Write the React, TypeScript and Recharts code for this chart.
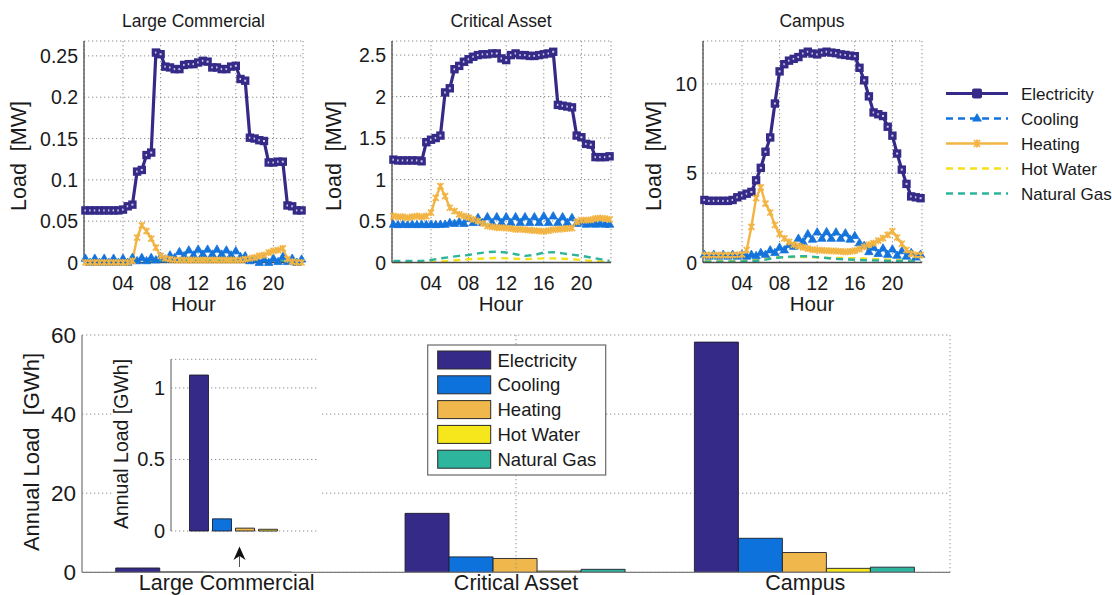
import React from 'react';
import { LineChart, Line, XAxis, YAxis, CartesianGrid, BarChart, Bar, ReferenceLine } from 'recharts';

const FONT = '"Liberation Sans", Arial, Helvetica, sans-serif';
const TEXT = '#1a1a1a';
const BOX = '#4a4a4a';
const BOX2 = '#7d7d7d';
const GRID = '#8e8e8e';

// ---------- categories / ticks ----------
const HOURS_HALF = [0, 0.5, 1, 1.5, 2, 2.5, 3, 3.5, 4, 4.5, 5, 5.5, 6, 6.5, 7, 7.5, 8, 8.5, 9, 9.5, 10, 10.5, 11, 11.5, 12, 12.5, 13, 13.5, 14, 14.5, 15, 15.5, 16, 16.5, 17, 17.5, 18, 18.5, 19, 19.5, 20, 20.5, 21, 21.5, 22, 22.5, 23];
const HOURS = [0, 1, 2, 3, 4, 5, 6, 7, 8, 9, 10, 11, 12, 13, 14, 15, 16, 17, 18, 19, 20, 21, 22, 23];
const HOUR_TICKS = [4, 8, 12, 16, 20];
const HOUR_TICK_LABELS = ['04', '08', '12', '16', '20'];
const SERIES_NAMES = ['Electricity', 'Cooling', 'Heating', 'Hot Water', 'Natural Gas'];
const LINE_COLORS = ['#352A87', '#1474DC', '#F2B443', '#F5E11B', '#2DB59C'];
const BAR_COLORS = ['#352A87', '#0E72DC', '#F0B84C', '#F6E61C', '#2DB59E'];
const PANEL_TITLES = ['Large Commercial', 'Critical Asset', 'Campus'];

// ---------- Large Commercial hourly profile (MW) ----------
const LC_ELEC = [0.063, 0.063, 0.063, 0.063, 0.063, 0.063, 0.063, 0.063, 0.064, 0.068, 0.070, 0.110, 0.112, 0.130, 0.133, 0.254, 0.252, 0.237, 0.236, 0.234, 0.234, 0.239, 0.240, 0.240, 0.242, 0.244, 0.243, 0.236, 0.236, 0.234, 0.234, 0.237, 0.238, 0.222, 0.220, 0.151, 0.150, 0.148, 0.147, 0.121, 0.121, 0.122, 0.122, 0.069, 0.068, 0.063, 0.063];
const LC_COOL = [0.005, 0, 0.005, 0, 0.005, 0, 0.005, 0, 0.005, 0, 0.006, 0.002, 0.006, 0.002, 0.006, 0.003, 0.007, 0.004, 0.009, 0.006, 0.013, 0.008, 0.015, 0.009, 0.016, 0.010, 0.016, 0.010, 0.016, 0.010, 0.015, 0.009, 0.014, 0.007, 0.008, 0.002, 0.004, 0, 0.004, 0, 0.005, 0.001, 0.007, 0.001, 0.005, 0, 0.004];
const LC_HEAT = [0, 0, 0, 0, 0, 0, 0, 0, 0, 0, 0.002, 0.030, 0.045, 0.038, 0.029, 0.018, 0.008, 0.005, 0.004, 0.003, 0.003, 0.003, 0.003, 0.003, 0.003, 0.003, 0.003, 0.003, 0.003, 0.003, 0.003, 0.003, 0.003, 0.003, 0.004, 0.005, 0.006, 0.008, 0.009, 0.012, 0.014, 0.015, 0.017, 0.004, 0.001, 0, 0];
const LC_HW = [0.001, 0.001, 0.001, 0.001, 0.001, 0.001, 0.002, 0.002, 0.002, 0.002, 0.002, 0.002, 0.002, 0.002, 0.002, 0.002, 0.002, 0.002, 0.002, 0.002, 0.002, 0.001, 0.001, 0.001];
const LC_NG = [0.002, 0.002, 0.002, 0.002, 0.002, 0.002, 0.002, 0.002, 0.002, 0.002, 0.002, 0.002, 0.002, 0.002, 0.002, 0.002, 0.002, 0.002, 0.002, 0.002, 0.002, 0.002, 0.002, 0.002];

// ---------- Critical Asset hourly profile (MW) ----------
const CA_ELEC = [1.24, 1.23, 1.23, 1.23, 1.23, 1.23, 1.22, 1.45, 1.48, 1.50, 1.53, 2.05, 2.10, 2.33, 2.37, 2.42, 2.45, 2.48, 2.50, 2.51, 2.51, 2.52, 2.52, 2.46, 2.44, 2.50, 2.52, 2.50, 2.50, 2.49, 2.49, 2.50, 2.51, 2.52, 2.54, 1.90, 1.89, 1.88, 1.87, 1.53, 1.51, 1.43, 1.42, 1.27, 1.27, 1.27, 1.28];
const CA_COOL = [0.46, 0.455, 0.46, 0.455, 0.46, 0.455, 0.46, 0.455, 0.46, 0.455, 0.46, 0.46, 0.48, 0.47, 0.49, 0.47, 0.53, 0.48, 0.54, 0.48, 0.55, 0.48, 0.55, 0.48, 0.55, 0.48, 0.55, 0.48, 0.55, 0.48, 0.55, 0.48, 0.56, 0.48, 0.56, 0.48, 0.55, 0.48, 0.54, 0.47, 0.49, 0.46, 0.47, 0.46, 0.47, 0.46, 0.46];
const CA_HEAT = [0.56, 0.55, 0.55, 0.54, 0.55, 0.56, 0.55, 0.56, 0.60, 0.78, 0.92, 0.80, 0.66, 0.62, 0.58, 0.56, 0.54, 0.52, 0.50, 0.47, 0.44, 0.43, 0.42, 0.42, 0.415, 0.41, 0.40, 0.40, 0.395, 0.39, 0.385, 0.38, 0.375, 0.385, 0.395, 0.40, 0.405, 0.41, 0.415, 0.49, 0.51, 0.51, 0.515, 0.53, 0.535, 0.53, 0.52];
const CA_HW = [0.005, 0.005, 0.005, 0.005, 0.008, 0.012, 0.02, 0.03, 0.04, 0.045, 0.05, 0.055, 0.05, 0.045, 0.04, 0.045, 0.05, 0.05, 0.045, 0.04, 0.03, 0.02, 0.012, 0.008];
const CA_NG = [0.02, 0.02, 0.02, 0.02, 0.03, 0.05, 0.065, 0.08, 0.09, 0.11, 0.125, 0.13, 0.12, 0.10, 0.08, 0.09, 0.12, 0.125, 0.11, 0.095, 0.08, 0.06, 0.04, 0.02];

// ---------- Campus hourly profile (MW) ----------
const CP_ELEC = [3.5, 3.45, 3.45, 3.45, 3.45, 3.45, 3.5, 3.65, 3.75, 3.85, 3.95, 4.6, 5.3, 6.2, 7.0, 8.9, 10.7, 11.1, 11.3, 11.4, 11.5, 11.7, 11.8, 11.7, 11.65, 11.75, 11.8, 11.75, 11.72, 11.65, 11.62, 11.58, 11.55, 10.9, 10.2, 9.3, 8.4, 8.3, 8.2, 7.6, 7.1, 6.1, 5.2, 4.4, 3.7, 3.65, 3.6];
const CP_COOL = [0.45, 0.35, 0.45, 0.35, 0.45, 0.35, 0.45, 0.35, 0.45, 0.35, 0.45, 0.38, 0.55, 0.45, 0.7, 0.55, 0.85, 0.7, 1.0, 0.9, 1.35, 1.15, 1.6, 1.3, 1.7, 1.35, 1.72, 1.35, 1.7, 1.35, 1.65, 1.3, 1.5, 1.1, 0.95, 0.6, 0.85, 0.5, 0.8, 0.45, 0.75, 0.4, 0.65, 0.35, 0.55, 0.3, 0.45];
const CP_HEAT = [0.42, 0.4, 0.42, 0.4, 0.42, 0.4, 0.42, 0.42, 0.45, 0.7, 2.0, 3.6, 4.2, 3.3, 2.8, 2.1, 1.6, 1.35, 1.15, 1.0, 0.92, 0.85, 0.78, 0.72, 0.7, 0.68, 0.66, 0.65, 0.64, 0.62, 0.6, 0.62, 0.66, 0.75, 0.88, 1.0, 1.08, 1.22, 1.36, 1.55, 1.75, 1.4, 1.05, 0.7, 0.5, 0.42, 0.42];
const CP_HW = [0.08, 0.08, 0.08, 0.08, 0.1, 0.12, 0.18, 0.25, 0.3, 0.3, 0.3, 0.3, 0.28, 0.26, 0.25, 0.25, 0.24, 0.22, 0.2, 0.18, 0.15, 0.12, 0.1, 0.08];
const CP_NG = [0.05, 0.05, 0.05, 0.05, 0.06, 0.08, 0.12, 0.2, 0.28, 0.32, 0.35, 0.35, 0.3, 0.25, 0.2, 0.18, 0.15, 0.13, 0.12, 0.1, 0.09, 0.08, 0.06, 0.05];

// ---------- y axes of the hourly panels ----------
const LC_YTICKS = [0, 0.05, 0.1, 0.15, 0.2, 0.25];
const LC_YLABELS = ['0', '0.05', '0.1', '0.15', '0.2', '0.25'];
const CA_YTICKS = [0, 0.5, 1, 1.5, 2, 2.5];
const CA_YLABELS = ['0', '0.5', '1', '1.5', '2', '2.5'];
const CP_YTICKS = [0, 5, 10];
const CP_YLABELS = ['0', '5', '10'];

// ---------- annual loads (GWh) ----------
const CATEGORIES = ['Large Commercial', 'Critical Asset', 'Campus'];
const ANNUAL_ELEC = [1.09, 14.9, 58.2];
const ANNUAL_COOL = [0.085, 3.9, 8.6];
const ANNUAL_HEAT = [0.02, 3.5, 5.0];
const ANNUAL_HW = [0.012, 0.3, 1.0];
const ANNUAL_NG = [0, 0.75, 1.3];
const ANNUAL_TICKS = [0, 20, 40, 60];
const CATEGORY_BOUNDARIES = [1, 2];
const INSET_TICKS = [0, 0.5, 1];
const INSET_TICK_LABELS = ['0', '0.5', '1'];

const KEYS = ['elec', 'cool', 'heat', 'hw', 'ng'];

function buildRows(elec: number[], cool: number[], heat: number[], hw: number[], ng: number[]) {
  return HOURS_HALF.map((h, i) => {
    const k = HOURS.indexOf(h);
    return {
      h,
      elec: elec[i],
      cool: cool[i],
      heat: heat[i],
      hw: k >= 0 ? hw[k] : null,
      ng: k >= 0 ? ng[k] : null,
    };
  });
}

const LC_ROWS = buildRows(LC_ELEC, LC_COOL, LC_HEAT, LC_HW, LC_NG);
const CA_ROWS = buildRows(CA_ELEC, CA_COOL, CA_HEAT, CA_HW, CA_NG);
const CP_ROWS = buildRows(CP_ELEC, CP_COOL, CP_HEAT, CP_HW, CP_NG);

const BAR_ROWS = CATEGORIES.map((c, i) => ({
  name: c,
  elec: ANNUAL_ELEC[i],
  cool: ANNUAL_COOL[i],
  heat: ANNUAL_HEAT[i],
  hw: ANNUAL_HW[i],
  ng: ANNUAL_NG[i],
}));
const INSET_ROWS = [BAR_ROWS[0]];

// ---------- layout ----------
const X_DOMAIN: [number, number] = [-0.15, 23.15];
const PLOT_TOP = 41;
const PLOT_BOTTOM = 262.5;
const PLOT_W = 219;
const AXIS_W = 84;
const CH_H = 320;
const PANEL_LEFTS = [84, 391.5, 702.5];
const YLABEL_X = [26, 341, 661];

const squareDot = (p: any) => {
  if (p.cx == null || p.cy == null) return <g key={`s${p.index}`} />;
  return (
    <rect key={`s${p.index}`} x={p.cx - 2.6} y={p.cy - 2.6} width={5.2} height={5.2}
      fill="#cfcbe9" stroke={LINE_COLORS[0]} strokeWidth={3.2} />
  );
};
const triDot = (p: any) => {
  if (p.cx == null || p.cy == null) return <g key={`t${p.index}`} />;
  const { cx, cy } = p;
  return (
    <path key={`t${p.index}`} d={`M${cx},${cy - 4.4}L${cx + 4.2},${cy + 2.9}L${cx - 4.2},${cy + 2.9}Z`}
      fill={LINE_COLORS[1]} stroke={LINE_COLORS[1]} strokeWidth={0.8} />
  );
};
const starDot = (p: any) => {
  if (p.cx == null || p.cy == null) return <g key={`x${p.index}`} />;
  const { cx, cy } = p;
  return (
    <path key={`x${p.index}`}
      d={`M${cx - 3},${cy - 3}L${cx + 3},${cy + 3}M${cx - 3},${cy + 3}L${cx + 3},${cy - 3}M${cx},${cy - 3.5}L${cx},${cy + 3.5}`}
      stroke={LINE_COLORS[2]} strokeWidth={1.7} fill="none" />
  );
};

function HourChart({ plotLeft, rows, yMax, yTicks, yLabels }: any) {
  const w = AXIS_W + PLOT_W + 6;
  return (
    <div style={{ position: 'absolute', left: plotLeft - AXIS_W, top: 0, width: w, height: CH_H }}>
      <LineChart width={w} height={CH_H} data={rows} margin={{ top: PLOT_TOP, right: 6, bottom: 0, left: 0 }}>
        <CartesianGrid stroke={GRID} strokeDasharray="1.3 2.7" />
        <XAxis dataKey="h" type="number" domain={X_DOMAIN} ticks={HOUR_TICKS} interval={0}
          height={CH_H - PLOT_BOTTOM} tickSize={0} tickMargin={0} tickLine={false}
          axisLine={{ stroke: BOX, strokeWidth: 1.3 }}
          tick={(p: any) => (
            <text x={p.x} y={p.y + 27} textAnchor="middle" fontSize={19.5} fontFamily={FONT} fill={TEXT}>
              {HOUR_TICK_LABELS[HOUR_TICKS.indexOf(p.payload.value)]}
            </text>
          )} />
        <XAxis xAxisId="top" orientation="top" dataKey="h" type="number" domain={X_DOMAIN}
          height={0} tick={false} tickLine={false} axisLine={{ stroke: BOX, strokeWidth: 1.3 }} />
        <YAxis type="number" domain={[0, yMax]} ticks={yTicks} interval={0} width={AXIS_W}
          tickSize={0} tickMargin={0} tickLine={false} axisLine={{ stroke: BOX, strokeWidth: 1.3 }}
          tick={(p: any) => (
            <text x={p.x - 6} y={p.y + 7} textAnchor="end" fontSize={19.5} fontFamily={FONT} fill={TEXT}>
              {yLabels[yTicks.indexOf(p.payload.value)]}
            </text>
          )} />
        <YAxis yAxisId="right" orientation="right" type="number" domain={[0, yMax]} width={0}
          tick={false} tickLine={false} axisLine={{ stroke: BOX, strokeWidth: 1.3 }} />
        <Line type="linear" dataKey="elec" stroke={LINE_COLORS[0]} strokeWidth={3.2} dot={squareDot}
          activeDot={false} isAnimationActive={false} />
        <Line type="linear" dataKey="cool" stroke={LINE_COLORS[1]} strokeWidth={2.4} strokeDasharray="6 4"
          dot={triDot} activeDot={false} isAnimationActive={false} />
        <Line type="linear" dataKey="heat" stroke={LINE_COLORS[2]} strokeWidth={2.4} dot={starDot}
          activeDot={false} isAnimationActive={false} />
        <Line type="linear" dataKey="hw" stroke={LINE_COLORS[3]} strokeWidth={2.4} strokeDasharray="7 5"
          dot={false} activeDot={false} connectNulls isAnimationActive={false} />
        <Line type="linear" dataKey="ng" stroke={LINE_COLORS[4]} strokeWidth={2.4} strokeDasharray="7 5"
          dot={false} activeDot={false} connectNulls isAnimationActive={false} />
      </LineChart>
    </div>
  );
}

function AnnualBars({ bordered }: any) {
  return KEYS.map((k, i) => (
    <Bar key={k} dataKey={k} fill={BAR_COLORS[i]} stroke="#1e1e2e" strokeWidth={bordered}
      isAnimationActive={false} />
  ));
}

export default function App() {
  const panels = [
    { rows: LC_ROWS, yMax: 0.268, yTicks: LC_YTICKS, yLabels: LC_YLABELS },
    { rows: CA_ROWS, yMax: 2.67, yTicks: CA_YTICKS, yLabels: CA_YLABELS },
    { rows: CP_ROWS, yMax: 12.4, yTicks: CP_YTICKS, yLabels: CP_YLABELS },
  ];
  const legendRowsTop = SERIES_NAMES.map((_, i) => 93.5 + i * 25);
  const legendRowsBottom = SERIES_NAMES.map((_, i) => 360 + i * 24.8);
  return (
    <div style={{ position: 'absolute', left: 0, top: 0, width: 1112, height: 595, background: '#fff', overflow: 'hidden', fontFamily: FONT }}>
      {panels.map((p, i) => (
        <HourChart key={i} plotLeft={PANEL_LEFTS[i]} rows={p.rows} yMax={p.yMax} yTicks={p.yTicks} yLabels={p.yLabels} />
      ))}

      {/* main annual bar chart */}
      <div style={{ position: 'absolute', left: 0, top: 320, width: 960, height: 275 }}>
        <BarChart width={960} height={275} data={BAR_ROWS} margin={{ top: 15, right: 10, bottom: 0, left: 0 }}
          barCategoryGap="11.66%" barGap={0}>
          <CartesianGrid vertical={false} stroke={GRID} strokeDasharray="1.3 2.7" />
          <XAxis dataKey="name" height={22.7} tickSize={0} tickMargin={0} tickLine={false} interval={0}
            axisLine={{ stroke: BOX2, strokeWidth: 1.3 }}
            tick={(p: any) => (
              <text x={p.x} y={p.y + 17.5} textAnchor="middle" fontSize={21.5} fontFamily={FONT} fill={TEXT}>
                {p.payload.value}
              </text>
            )} />
          <XAxis xAxisId="grid" orientation="top" type="number" domain={[0, 3]} ticks={CATEGORY_BOUNDARIES}
            interval={0} height={0} tick={false} tickLine={false} axisLine={false} />
          <XAxis xAxisId="top" orientation="top" dataKey="name" height={0} tick={false} tickLine={false}
            axisLine={{ stroke: BOX2, strokeWidth: 1.3 }} />
          <YAxis type="number" domain={[0, 60]} ticks={ANNUAL_TICKS} interval={0} width={82}
            tickSize={0} tickMargin={0} tickLine={false} axisLine={{ stroke: BOX2, strokeWidth: 1.3 }}
            tick={(p: any) => (
              <text x={p.x - 6} y={p.y + 8} textAnchor="end" fontSize={22.5} fontFamily={FONT} fill={TEXT}>
                {p.payload.value}
              </text>
            )} />
          <YAxis yAxisId="right" orientation="right" type="number" domain={[0, 60]} width={0}
            tick={false} tickLine={false} axisLine={{ stroke: BOX2, strokeWidth: 1.3 }} />
          {CATEGORY_BOUNDARIES.map((b) => (
            <ReferenceLine key={`b${b}`} xAxisId="grid" x={b} stroke={GRID} strokeDasharray="1.3 2.7" />
          ))}
          {AnnualBars({ bordered: 0.9 })}
        </BarChart>
      </div>

      {/* inset bar chart */}
      <div style={{ position: 'absolute', left: 112, top: 345, width: 209, height: 200, background: '#fff' }}>
        <BarChart width={209} height={200} data={INSET_ROWS} margin={{ top: 14.3, right: 2, bottom: 14, left: 0 }}
          barCategoryGap={18.5} barGap={4}>
          <CartesianGrid vertical={false} stroke={GRID} strokeDasharray="1.3 2.7" />
          <XAxis dataKey="name" height={0} tick={false} tickLine={false} axisLine={{ stroke: BOX2, strokeWidth: 1.3 }} />
          <XAxis xAxisId="top" orientation="top" dataKey="name" height={0} tick={false} tickLine={false}
            axisLine={{ stroke: BOX2, strokeWidth: 1.3 }} />
          <YAxis type="number" domain={[0, 1.2]} ticks={INSET_TICKS} interval={0} width={59}
            tickSize={0} tickMargin={0} tickLine={false} axisLine={{ stroke: BOX2, strokeWidth: 1.3 }}
            tick={(p: any) => (
              <text x={p.x - 6} y={p.y + 7} textAnchor="end" fontSize={20} fontFamily={FONT} fill={TEXT}>
                {INSET_TICK_LABELS[INSET_TICKS.indexOf(p.payload.value)]}
              </text>
            )} />
          <YAxis yAxisId="right" orientation="right" type="number" domain={[0, 1.2]} width={0}
            tick={false} tickLine={false} axisLine={{ stroke: BOX2, strokeWidth: 1.3 }} />
          {AnnualBars({ bordered: 0.9 })}
        </BarChart>
      </div>

      {/* titles, axis labels, legends, arrow */}
      <svg style={{ position: 'absolute', left: 0, top: 0, pointerEvents: 'none' }} width={1112} height={595}>
        {PANEL_TITLES.map((t, i) => (
          <text key={`t${i}`} x={PANEL_LEFTS[i] + PLOT_W / 2} y={27} textAnchor="middle" fontSize={17.5} fontFamily={FONT} fill={TEXT}>{t}</text>
        ))}
        {PANEL_TITLES.map((t, i) => (
          <text key={`h${i}`} x={PANEL_LEFTS[i] + PLOT_W / 2} y={311} textAnchor="middle" fontSize={20.5} fontFamily={FONT} fill={TEXT}>Hour</text>
        ))}
        {PANEL_TITLES.map((t, i) => (
          <text key={`y${i}`} x={YLABEL_X[i]} y={156} transform={`rotate(-90 ${YLABEL_X[i]} 156)`} textAnchor="middle"
            fontSize={21.5} fontFamily={FONT} fill={TEXT} style={{ whiteSpace: 'pre' }}>{'Load  [MW]'}</text>
        ))}
        <text x={39} y={452} transform="rotate(-90 39 452)" textAnchor="middle" fontSize={22} fontFamily={FONT} fill={TEXT}
          style={{ whiteSpace: 'pre' }}>{'Annual Load  [GWh]'}</text>
        <text x={127.5} y={444} transform="rotate(-90 127.5 444)" textAnchor="middle" fontSize={19.5} fontFamily={FONT} fill={TEXT}>
          Annual Load [GWh]
        </text>

        {/* top-right legend */}
        {SERIES_NAMES.map((n, i) => {
          const y = legendRowsTop[i];
          const c = LINE_COLORS[i];
          return (
            <g key={`lt${i}`}>
              <line x1={946} x2={1008} y1={y} y2={y} stroke={c} strokeWidth={i === 0 ? 3.2 : 2.6}
                strokeDasharray={i === 1 || i === 3 || i === 4 ? '7 5' : undefined} />
              {i === 0 && <rect x={972} y={y - 5} width={10} height={10} rx={2} fill={c} />}
              {i === 1 && <path d={`M977,${y - 5.5}L982,${y + 3}L972,${y + 3}Z`} fill={c} />}
              {i === 2 && <path d={`M974,${y - 3.5}L980,${y + 3.5}M974,${y + 3.5}L980,${y - 3.5}M977,${y - 4}L977,${y + 4}`} stroke={c} strokeWidth={1.8} />}
              <text x={1021} y={y + 6} fontSize={17} fontFamily={FONT} fill={TEXT}>{n}</text>
            </g>
          );
        })}

        {/* bottom legend */}
        <rect x={427.7} y={345} width={178} height={130} fill="#fff" stroke="#6a6a6a" strokeWidth={1.2} />
        {SERIES_NAMES.map((n, i) => {
          const y = legendRowsBottom[i];
          return (
            <g key={`lb${i}`}>
              <rect x={437.7} y={y - 9} width={53} height={18} fill={BAR_COLORS[i]} stroke="#2a2a2a" strokeWidth={1} />
              <text x={497.5} y={y + 6.5} fontSize={18.5} fontFamily={FONT} fill={TEXT}>{n}</text>
            </g>
          );
        })}

        {/* arrow pointing at the small Large Commercial bars */}
        <line x1={239.5} y1={567} x2={239.5} y2={552} stroke="#555" strokeWidth={1} />
        <path d="M239.5,546.5L245.5,560L239.5,556L233.5,560Z" fill="#111" />
      </svg>
    </div>
  );
}
